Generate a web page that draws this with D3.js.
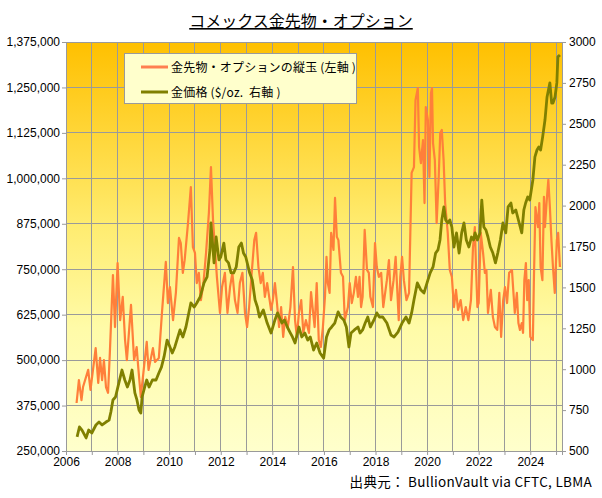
<!DOCTYPE html>
<html><head><meta charset="utf-8">
<script src="https://cdn.jsdelivr.net/npm/d3@7"></script>
<style>
body{margin:0;background:#fff;}
svg{display:block;}
text{font-family:"Liberation Sans",Arial,sans-serif;}
.jp{font-family:"Noto Sans CJK JP","Liberation Sans",sans-serif;}
</style></head>
<body>
<script>
// ---- data ----
const titleText = "コメックス金先物・オプション";
const sourceText = "出典元： BullionVault via CFTC, LBMA";
const legendLabels = ["金先物・オプションの縦玉 (左軸 )", "金価格 ($/oz.  右軸 )"];

const leftTicks = [250000,375000,500000,625000,750000,875000,1000000,1125000,1250000,1375000];
const rightTicks = [500,750,1000,1250,1500,1750,2000,2250,2500,2750,3000];
const xTickYears = [2006,2008,2010,2012,2014,2016,2018,2020,2022,2024];

const oiYears = [2006.41,2006.5,2006.6,2006.66,2006.86,2006.95,2007.15,2007.25,2007.32,2007.4,2007.47,2007.55,2007.63,2007.7,2007.82,2007.9,2008.0,2008.1,2008.2,2008.29,2008.36,2008.52,2008.64,2008.74,2008.8,2008.9,2009.0,2009.13,2009.2,2009.37,2009.45,2009.6,2009.72,2009.87,2009.95,2010.03,2010.15,2010.26,2010.38,2010.45,2010.53,2010.6,2010.73,2010.84,2010.92,2011.0,2011.07,2011.15,2011.23,2011.33,2011.43,2011.54,2011.62,2011.7,2011.78,2011.85,2011.97,2012.05,2012.16,2012.26,2012.36,2012.45,2012.55,2012.65,2012.74,2012.84,2012.94,2013.02,2013.1,2013.2,2013.3,2013.37,2013.46,2013.55,2013.63,2013.71,2013.8,2013.95,2014.02,2014.1,2014.18,2014.26,2014.34,2014.42,2014.5,2014.6,2014.7,2014.8,2014.88,2014.95,2015.03,2015.12,2015.2,2015.3,2015.42,2015.5,2015.57,2015.64,2015.72,2015.8,2015.88,2015.96,2016.04,2016.1,2016.15,2016.22,2016.28,2016.37,2016.43,2016.5,2016.56,2016.66,2016.74,2016.81,2016.93,2017.0,2017.08,2017.16,2017.24,2017.32,2017.38,2017.44,2017.5,2017.58,2017.67,2017.74,2017.8,2017.9,2017.98,2018.05,2018.13,2018.22,2018.3,2018.44,2018.52,2018.6,2018.7,2018.78,2018.9,2018.96,2019.03,2019.1,2019.2,2019.3,2019.4,2019.49,2019.55,2019.64,2019.69,2019.76,2019.84,2019.9,2019.95,2020.03,2020.09,2020.15,2020.19,2020.23,2020.3,2020.37,2020.45,2020.51,2020.57,2020.64,2020.7,2020.8,2020.88,2020.96,2021.04,2021.12,2021.2,2021.3,2021.4,2021.5,2021.6,2021.7,2021.78,2021.85,2021.9,2021.95,2022.0,2022.08,2022.17,2022.24,2022.3,2022.36,2022.47,2022.55,2022.63,2022.72,2022.8,2022.87,2022.95,2023.02,2023.1,2023.18,2023.29,2023.34,2023.4,2023.48,2023.54,2023.6,2023.67,2023.72,2023.77,2023.83,2023.88,2023.94,2024.0,2024.1,2024.14,2024.2,2024.3,2024.35,2024.4,2024.47,2024.53,2024.57,2024.63,2024.7,2024.76,2024.82,2024.88,2024.95,2025.03,2025.08,2025.15,2025.23];
const oiValues = [382000,445000,390000,426000,473000,418000,533000,437000,506000,445000,500000,426000,410000,520000,734000,591000,767000,610000,674000,555000,500000,652000,500000,536000,481000,399000,465000,550000,473000,533000,495000,506000,630000,770000,657000,701000,610000,685000,836000,822000,740000,775000,877000,976000,811000,795000,712000,740000,665000,712000,795000,905000,1031000,885000,803000,729000,630000,701000,740000,630000,701000,740000,665000,630000,712000,740000,630000,591000,646000,740000,830000,850000,756000,712000,740000,674000,712000,638000,665000,712000,657000,591000,646000,564000,619000,591000,646000,756000,610000,564000,630000,665000,575000,610000,575000,687000,638000,591000,712000,555000,536000,591000,674000,784000,712000,685000,850000,803000,946000,839000,830000,740000,729000,610000,646000,712000,657000,685000,729000,674000,729000,646000,674000,858000,748000,740000,674000,646000,822000,756000,729000,740000,646000,720000,775000,665000,720000,784000,610000,729000,784000,720000,665000,685000,1015000,1031000,1215000,1248000,1086000,1042000,1105000,932000,1196000,1160000,1004000,1235000,1248000,1097000,1050000,877000,1004000,1125000,1133000,1050000,932000,850000,748000,729000,646000,693000,638000,665000,610000,646000,610000,665000,811000,866000,748000,646000,657000,850000,795000,740000,748000,630000,693000,619000,591000,583000,685000,564000,665000,701000,657000,740000,748000,693000,630000,685000,602000,583000,602000,575000,720000,767000,665000,720000,564000,555000,720000,921000,866000,932000,756000,720000,949000,866000,932000,996000,921000,830000,756000,685000,830000,850000,756000];

const goldYears = [2006.43,2006.52,2006.62,2006.78,2006.88,2007.0,2007.16,2007.28,2007.4,2007.55,2007.67,2007.74,2007.82,2007.92,2008.05,2008.17,2008.28,2008.38,2008.48,2008.56,2008.67,2008.75,2008.83,2008.9,2008.95,2009.05,2009.13,2009.22,2009.35,2009.49,2009.6,2009.7,2009.8,2009.92,2010.03,2010.12,2010.22,2010.42,2010.53,2010.65,2010.84,2010.97,2011.07,2011.2,2011.35,2011.47,2011.58,2011.62,2011.74,2011.82,2011.93,2012.0,2012.12,2012.2,2012.3,2012.4,2012.5,2012.6,2012.7,2012.8,2012.88,2012.97,2013.12,2013.22,2013.33,2013.42,2013.5,2013.65,2013.8,2013.95,2014.1,2014.2,2014.37,2014.47,2014.58,2014.68,2014.78,2014.88,2015.03,2015.14,2015.26,2015.37,2015.47,2015.6,2015.72,2015.85,2015.99,2016.1,2016.2,2016.3,2016.42,2016.55,2016.65,2016.77,2016.87,2016.97,2017.05,2017.18,2017.32,2017.4,2017.5,2017.6,2017.7,2017.8,2017.94,2018.05,2018.15,2018.28,2018.44,2018.6,2018.72,2018.87,2019.03,2019.18,2019.3,2019.4,2019.49,2019.62,2019.76,2019.88,2020.03,2020.12,2020.23,2020.33,2020.42,2020.5,2020.57,2020.65,2020.72,2020.8,2020.88,2020.96,2021.04,2021.14,2021.24,2021.34,2021.43,2021.52,2021.62,2021.72,2021.8,2021.86,2021.95,2022.05,2022.12,2022.2,2022.28,2022.36,2022.45,2022.55,2022.65,2022.74,2022.84,2022.94,2023.05,2023.14,2023.25,2023.32,2023.44,2023.54,2023.67,2023.75,2023.82,2023.9,2023.98,2024.1,2024.18,2024.26,2024.33,2024.4,2024.48,2024.57,2024.65,2024.76,2024.83,2024.88,2024.96,2025.03,2025.07,2025.15,2025.23];
const goldPrice = [586,647,628,580,628,610,659,677,659,677,689,738,812,830,916,995,934,891,934,995,855,812,751,732,830,891,934,891,934,934,977,1013,1075,1178,1136,1099,1136,1240,1197,1258,1405,1380,1405,1441,1527,1564,1729,1894,1650,1808,1668,1686,1771,1668,1650,1589,1589,1625,1747,1771,1710,1686,1589,1546,1423,1380,1319,1362,1282,1221,1301,1344,1282,1301,1258,1227,1197,1160,1258,1197,1221,1178,1197,1117,1160,1099,1068,1197,1240,1258,1282,1350,1319,1301,1258,1136,1221,1240,1258,1221,1240,1282,1319,1258,1301,1344,1319,1319,1282,1209,1197,1227,1282,1319,1282,1344,1423,1527,1484,1466,1545,1589,1625,1710,1729,1790,1912,1992,1912,1894,1912,1869,1747,1833,1710,1833,1894,1790,1747,1808,1790,1833,1790,1833,2034,1869,1851,1808,1747,1710,1650,1710,1790,1894,1833,1992,2016,1955,1973,1912,1833,1973,2016,2053,2034,2157,2298,2340,2358,2340,2420,2523,2664,2750,2627,2627,2664,2750,2909,2921];

// ---- layout ----
const W = 602, H = 498;
const m = {left: 66, right: 562, top: 42, bottom: 451};

const svg = d3.select("body").append("svg").attr("width", W).attr("height", H);

const x = d3.scaleLinear().domain([2006, 2025.23]).range([m.left, m.right]);
const yL = d3.scaleLinear().domain([250000, 1375000]).range([m.bottom, m.top]);
const yR = d3.scaleLinear().domain([500, 3000]).range([m.bottom, m.top]);

// gradient background
const defs = svg.append("defs");
const grad = defs.append("linearGradient").attr("id","bg").attr("x1",0).attr("y1",0).attr("x2",0).attr("y2",1);
grad.append("stop").attr("offset","0%").attr("stop-color","#FFC000");
grad.append("stop").attr("offset","45%").attr("stop-color","#FFEC70");
grad.append("stop").attr("offset","70%").attr("stop-color","#FFFBA8");
grad.append("stop").attr("offset","100%").attr("stop-color","#FFFFCC");
defs.append("clipPath").attr("id","clip").append("rect")
  .attr("x", m.left).attr("y", m.top).attr("width", m.right-m.left).attr("height", m.bottom-m.top);

svg.append("rect").attr("x", m.left).attr("y", m.top)
  .attr("width", m.right-m.left).attr("height", m.bottom-m.top).attr("fill","url(#bg)");

// grid
const yearGrid = d3.range(2007, 2026);
svg.append("g").selectAll("line").data(yearGrid).join("line")
  .attr("x1", d=>x(d)).attr("x2", d=>x(d)).attr("y1", m.top).attr("y2", m.bottom)
  .attr("stroke","#9a9a9a").attr("stroke-width",1).attr("shape-rendering","crispEdges");
svg.append("g").selectAll("line").data(leftTicks.slice(1)).join("line")
  .attr("x1", m.left).attr("x2", m.right).attr("y1", d=>yL(d)).attr("y2", d=>yL(d))
  .attr("stroke","#9a9a9a").attr("stroke-width",1).attr("shape-rendering","crispEdges");

// series
const g = svg.append("g").attr("clip-path","url(#clip)");
const oiData = oiYears.map((d,i)=>[d, oiValues[i]]);
const goldData = goldYears.map((d,i)=>[d, goldPrice[i]]);
g.append("path").datum(oiData)
  .attr("d", d3.line().x(d=>x(d[0])).y(d=>yL(d[1])))
  .attr("fill","none").attr("stroke","#FF7F3A").attr("stroke-width",2.2).attr("stroke-linejoin","round");
g.append("path").datum(goldData)
  .attr("d", d3.line().x(d=>x(d[0])).y(d=>yR(d[1])))
  .attr("fill","none").attr("stroke","#808000").attr("stroke-width",2.8).attr("stroke-linejoin","round");

// frame
svg.append("rect").attr("x", m.left).attr("y", m.top)
  .attr("width", m.right-m.left).attr("height", m.bottom-m.top)
  .attr("fill","none").attr("stroke","#9a9a9a").attr("stroke-width",1).attr("shape-rendering","crispEdges");

// axes
const fmt = d3.format(",");
const axL = svg.append("g").attr("transform",`translate(${m.left},0)`)
  .call(d3.axisLeft(yL).tickValues(leftTicks).tickFormat(fmt).tickSize(4).tickPadding(2));
const axR = svg.append("g").attr("transform",`translate(${m.right},0)`)
  .call(d3.axisRight(yR).tickValues(rightTicks).tickFormat(d3.format("d")).tickSize(4).tickPadding(3));
const axB = svg.append("g").attr("transform",`translate(0,${m.bottom})`)
  .call(d3.axisBottom(x).tickValues(d3.range(2006, 2026)).tickFormat(d => xTickYears.includes(d) ? String(d) : "").tickSize(4).tickPadding(2));
[axL, axR, axB].forEach(a => {
  a.select(".domain").attr("stroke","#9a9a9a");
  a.selectAll(".tick line").attr("stroke","#9a9a9a");
  a.selectAll("text").attr("fill","#000").attr("font-size",12).attr("font-family","'Liberation Sans',Arial,sans-serif");
});

// title
svg.append("text").attr("class","jp").attr("x", 301).attr("y", 27)
  .attr("text-anchor","middle").attr("font-size",16).attr("fill","#000")
  .attr("text-decoration","underline").text(titleText);

// legend
const lg = svg.append("g");
lg.append("rect").attr("x",124.5).attr("y",53.5).attr("width",232).attr("height",50)
  .attr("fill","#FFFFCC").attr("stroke","#9a9a9a").attr("stroke-width",1);
const legColors = ["#FF7F50","#808000"];
const legY = [67, 92];
legendLabels.forEach((lab,i)=>{
  lg.append("line").attr("x1",141).attr("x2",168).attr("y1",legY[i]).attr("y2",legY[i])
    .attr("stroke",legColors[i]).attr("stroke-width",3);
  lg.append("text").attr("class","jp").attr("x",171).attr("y",legY[i]+4.5)
    .attr("font-size",12).attr("fill","#000").attr("letter-spacing",0.2).attr("xml:space","preserve").style("white-space","pre").text(lab);
});

// source
svg.append("text").attr("class","jp").attr("x",592).attr("y",487)
  .attr("text-anchor","end").attr("font-size",13.5).attr("fill","#000")
  .attr("letter-spacing",0.3).text(sourceText);
</script>
</body></html>
